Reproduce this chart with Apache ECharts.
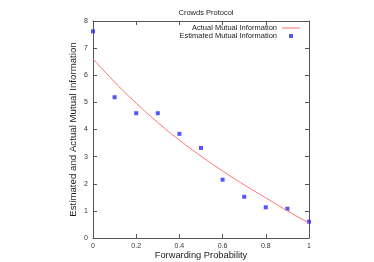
<!DOCTYPE html>
<html><head><meta charset="utf-8">
<script src="https://cdn.jsdelivr.net/npm/echarts@6/dist/echarts.min.js"></script>
<style>html,body{margin:0;padding:0;background:#fff}#c{width:374px;height:262px}</style>
</head><body><div id="c"></div>
<script>
var xActual = [0, 0.1, 0.2, 0.3, 0.4, 0.5, 0.6, 0.7, 0.8, 0.9, 1.0];
var actualMI = [6.60, 5.75, 4.97, 4.26, 3.61, 3.02, 2.47, 1.96, 1.48, 1.00, 0.55];
var xEst = [0, 0.1, 0.2, 0.3, 0.4, 0.5, 0.6, 0.7, 0.8, 0.9, 1.0];
var estimatedMI = [7.62, 5.19, 4.60, 4.60, 3.84, 3.32, 2.15, 1.52, 1.13, 1.08, 0.60];
var xTicks = [0, 0.2, 0.4, 0.6, 0.8, 1];
var yTicks = [0, 1, 2, 3, 4, 5, 6, 7, 8];

var font = 'Liberation Sans';
var chart = echarts.init(document.getElementById('c'));
var axisCol = '#555';
function xa(pos, show) {
  return {type:'value', position:pos, min:0, max:1, interval:0.2,
    name: show ? 'Forwarding Probability' : '', nameLocation:'middle', nameGap:13, nameMoveOverlap:false,
    nameTextStyle:{fontFamily:font, fontSize:9.3, color:'#222'},
    axisLine:{show:true, onZero:false, lineStyle:{color:axisCol, width:1}},
    axisTick:{show:true, inside:true, length:4, lineStyle:{color:axisCol}},
    axisLabel:{show:show, fontFamily:font, fontSize:7, color:'#333', margin:5,
      formatter:function(v){return String(+v.toFixed(1));}},
    splitLine:{show:false}};
}
function ya(pos, show) {
  return {type:'value', position:pos, min:0, max:8, interval:1,
    name: show ? 'Estimated and Actual Mutual Information' : '', nameLocation:'middle', nameGap:15, nameMoveOverlap:false,
    nameTextStyle:{fontFamily:font, fontSize:9.7, color:'#222'},
    axisLine:{show:true, onZero:false, lineStyle:{color:axisCol, width:1}},
    axisTick:{show:true, inside:true, length:4, lineStyle:{color:axisCol}},
    axisLabel:{show:show, fontFamily:font, fontSize:7, color:'#333', margin:5},
    splitLine:{show:false}};
}
var legText = {fontFamily:font, fontSize:7.5, color:'#222'};
chart.setOption({
  animation:false,
  title:{text:'Crowds Protocol', left:201, textAlign:'center', top:4,
    textStyle:{fontFamily:font, fontSize:7.5, fontWeight:'normal', color:'#222'}},
  legend:[
    {orient:'vertical', right:74, top:24, align:'right', itemWidth:18, itemHeight:1, padding:0,
      textStyle:legText, data:[{name:'Actual Mutual Information', icon:'rect'}]},
    {orient:'vertical', right:81, top:32, align:'right', itemWidth:4, itemHeight:4, padding:0,
      textStyle:Object.assign({padding:[0,7,0,0]}, legText), data:[{name:'Estimated Mutual Information', icon:'rect'}]}
  ],
  grid:{left:93, right:65, top:21, bottom:24, outerBoundsMode:'none'},
  xAxis:[xa('bottom', true), xa('top', false)],
  yAxis:[ya('left', true), ya('right', false)],
  series:[
    {name:'Actual Mutual Information', type:'line', smooth:true, symbol:'none',
      itemStyle:{color:'#ff7070'}, lineStyle:{color:'#ff7070', width:1},
      data: xActual.map(function(x,i){return [x, actualMI[i]];})},
    {name:'Estimated Mutual Information', type:'scatter', symbol:'rect', symbolSize:4,
      itemStyle:{color:'#2a2aff'},
      data: xEst.map(function(x,i){return [x, estimatedMI[i]];})}
  ]
});
</script></body></html>
